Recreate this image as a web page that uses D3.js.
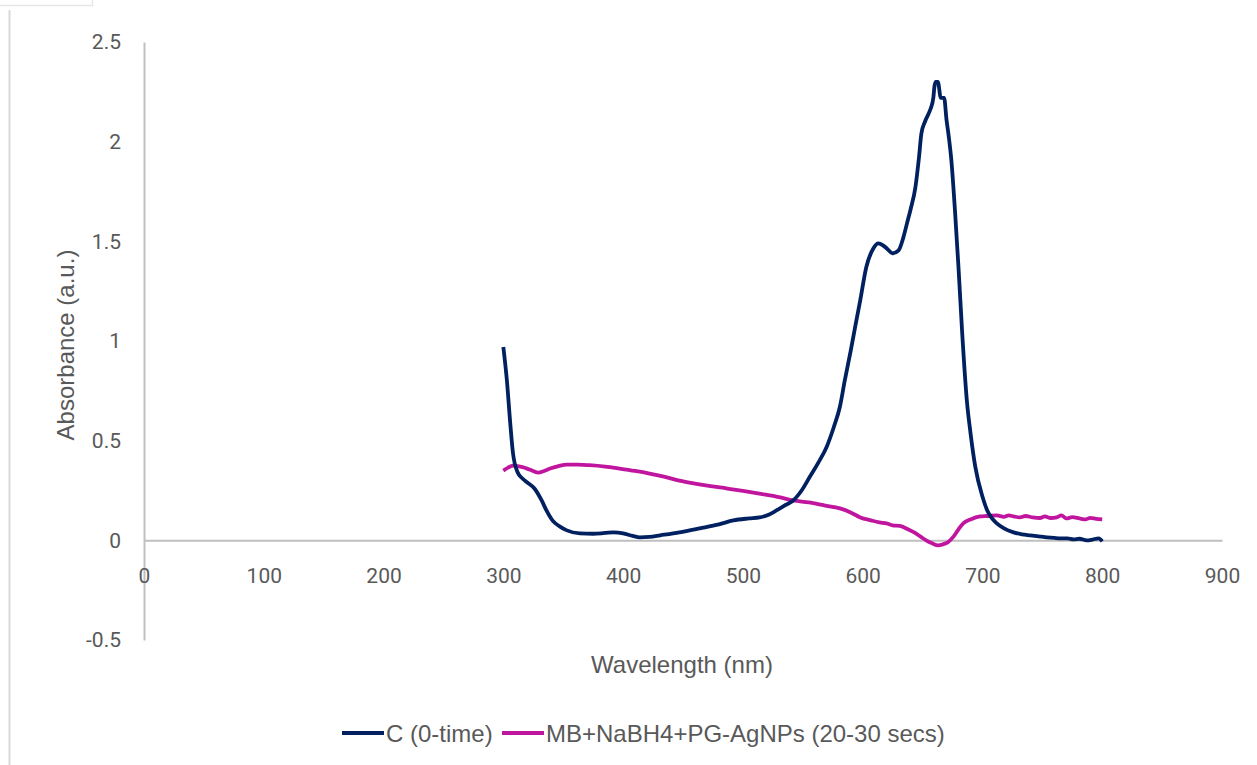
<!DOCTYPE html>
<html>
<head>
<meta charset="utf-8">
<script src="https://cdn.jsdelivr.net/npm/d3@7"></script>
<style>
  body { margin: 0; background: #fff; }
  svg { display: block; }
</style>
</head>
<body>
<div id="chart"></div>
<script>
// C (0-time)
var c0_nm  = [300,303,305.6,308,312,316,320,326,332,336,341,347,353,364,375,385,392,400,408,414,422,431,447,464,480,492,505,514,522,528,535,542,549,556,563,570,576,581,585,590,594,598,603,609,613,617,620,625,630,634,637,640,644,647,649,652,655,657,659,660,661,663,664,665,668,670,672,674,677,680,683,687,690,694,700,704,708,712,718,726,733,740,747,754,760,766,771,776,781,787,792,797,800];
var c0_abs = [0.97,0.80,0.60,0.44,0.34,0.31,0.29,0.26,0.20,0.15,0.10,0.07,0.05,0.035,0.033,0.037,0.04,0.035,0.022,0.015,0.017,0.025,0.04,0.06,0.08,0.10,0.11,0.115,0.13,0.15,0.175,0.20,0.25,0.32,0.39,0.47,0.57,0.67,0.80,0.95,1.08,1.205,1.37,1.465,1.49,1.48,1.465,1.44,1.455,1.52,1.59,1.66,1.77,1.92,2.04,2.10,2.14,2.17,2.22,2.28,2.30,2.30,2.26,2.22,2.22,2.11,2.02,1.91,1.66,1.37,1.05,0.70,0.54,0.37,0.22,0.15,0.11,0.085,0.06,0.04,0.03,0.025,0.02,0.015,0.012,0.01,0.01,0.005,0.008,0.0,0.004,0.01,-0.005];

// MB+NaBH4+PG-AgNPs (20-30 secs)
var mb_nm  = [300,304,308,312,316,322,329,334,339,346,353,362,372,385,397,410,422,435,447,460,473,487,500,515,530,542,555,568,581,590,598,607,614,620,625,631,638,643,648,653,658,663,667,671,676,680,684,690,698,704,712,718,722,726,731,736,742,748,752,757,762,766,770,775,781,786,790,795,800];
var mb_abs = [0.35,0.365,0.375,0.372,0.367,0.355,0.34,0.348,0.36,0.372,0.38,0.38,0.377,0.37,0.36,0.348,0.335,0.318,0.30,0.285,0.272,0.26,0.248,0.233,0.217,0.20,0.19,0.175,0.16,0.14,0.115,0.10,0.09,0.085,0.075,0.072,0.055,0.04,0.02,0.0,-0.015,-0.025,-0.02,-0.01,0.02,0.055,0.085,0.105,0.12,0.122,0.125,0.118,0.125,0.12,0.115,0.122,0.115,0.112,0.12,0.112,0.115,0.125,0.11,0.116,0.11,0.105,0.113,0.108,0.105];

var xTicks = [0,100,200,300,400,500,600,700,800,900];
var yTicks = [-0.5,0,0.5,1,1.5,2,2.5];
var seriesNames = ["C (0-time)", "MB+NaBH4+PG-AgNPs (20-30 secs)"];
var seriesColors = ["#002060", "#c0169f"];

var W = 1257, H = 765;
var svg = d3.select("#chart").append("svg")
    .attr("width", W)
    .attr("height", H);

// stray frame lines from the original export
svg.append("path").attr("d", "M0,5.5H92.5V0").attr("fill", "none").attr("stroke", "#e6e6e6").attr("stroke-width", 1.5);
svg.append("line").attr("x1", 9.5).attr("x2", 9.5).attr("y1", 10).attr("y2", H)
    .attr("stroke", "#d9d9d9").attr("stroke-width", 2);

var x = d3.scaleLinear().domain([0, 900]).range([144, 1222]);
var y = d3.scaleLinear().domain([-0.5, 2.5]).range([640, 42]);

var tickFont = "Roboto, 'Liberation Sans', sans-serif";
var fmt = function(d){ return String(d); };   // plain hyphen for negatives

// y axis
var gy = svg.append("g")
    .attr("transform", "translate(" + x(0) + ",0)")
    .call(d3.axisLeft(y).tickValues(yTicks).tickSize(0).tickPadding(23).tickFormat(fmt));
gy.select(".domain").attr("stroke", "#bfbfbf").attr("stroke-width", 2);
gy.selectAll("text").attr("fill", "#595959").style("font-family", tickFont).style("font-size", "21px");

// x axis
var gx = svg.append("g")
    .attr("transform", "translate(0," + y(0) + ")")
    .call(d3.axisBottom(x).tickValues(xTicks).tickSize(0).tickPadding(28).tickFormat(fmt));
gx.select(".domain").attr("stroke", "#bfbfbf").attr("stroke-width", 2);
gx.selectAll("text").attr("fill", "#595959").style("font-family", tickFont).style("font-size", "21px");

// axis titles
svg.append("text")
    .attr("x", 682).attr("y", 673)
    .attr("text-anchor", "middle")
    .attr("fill", "#595959")
    .style("font-family", "'Liberation Sans', Arial, sans-serif")
    .style("font-size", "24px")
    .text("Wavelength (nm)");

svg.append("text")
    .attr("transform", "translate(74,345) rotate(-90)")
    .attr("text-anchor", "middle")
    .attr("fill", "#595959")
    .style("font-family", "'Liberation Sans', Arial, sans-serif")
    .style("font-size", "24px")
    .text("Absorbance (a.u.)");

// lines
var line = d3.line()
    .x(function(d){ return x(d[0]); })
    .y(function(d){ return y(d[1]); })
    .curve(d3.curveMonotoneX);

var series = [
    d3.zip(c0_nm, c0_abs),
    d3.zip(mb_nm, mb_abs)
];

// magenta drawn first, navy on top
[1, 0].forEach(function(i){
    svg.append("path")
        .datum(series[i])
        .attr("fill", "none")
        .attr("stroke", seriesColors[i])
        .attr("stroke-width", 3.8)
        .attr("stroke-linejoin", "round")
        .attr("d", line);
});

// legend
var legendX = [342, 502];
var legend = svg.append("g");
seriesNames.forEach(function(name, i){
    legend.append("line")
        .attr("x1", legendX[i]).attr("x2", legendX[i] + 42)
        .attr("y1", 733).attr("y2", 733)
        .attr("stroke", seriesColors[i])
        .attr("stroke-width", 3.8);
    legend.append("text")
        .attr("x", legendX[i] + 44).attr("y", 742)
        .attr("fill", "#595959")
        .style("font-family", "'Liberation Sans Narrow', 'Arial Narrow', 'Liberation Sans', sans-serif")
        .style("font-size", "24px")
        .text(name);
});
</script>
</body>
</html>
